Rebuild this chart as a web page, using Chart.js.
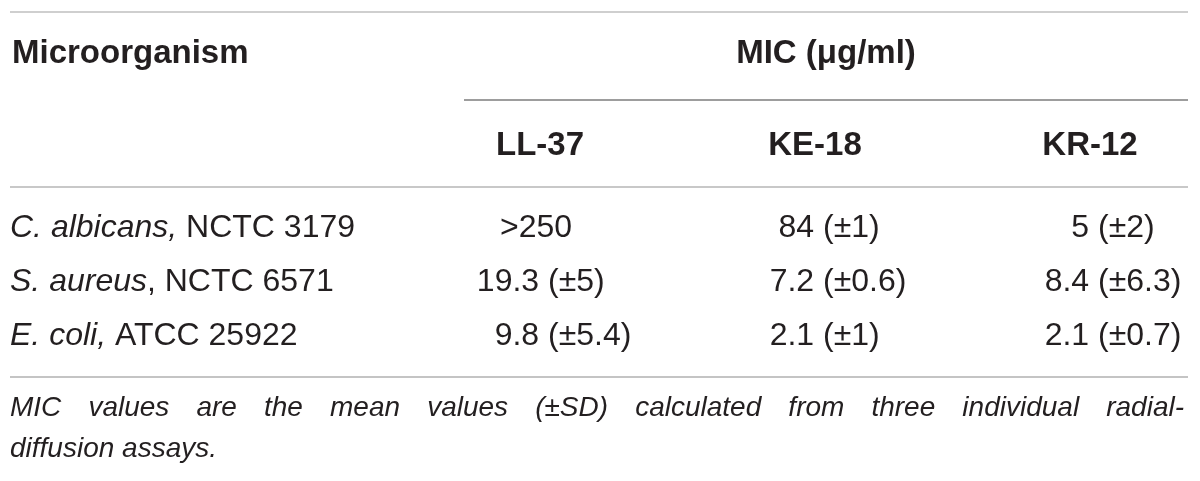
<!DOCTYPE html>
<html>
<head>
<meta charset="utf-8">
<script src="https://cdn.jsdelivr.net/npm/chart.js@4.4.1/dist/chart.umd.min.js"></script>
<style>
  html, body { margin: 0; padding: 0; background: #fff; }
  #wrap { width: 1200px; height: 481px; position: relative; }
</style>
</head>
<body>
<div id="wrap"><canvas id="micTable"></canvas></div>
<script>
// table content
const peptides = ['LL-37', 'KE-18', 'KR-12'];
const speciesNames = ['C. albicans,', 'S. aureus', 'E. coli,'];
const strainNames = [' NCTC 3179', ', NCTC 6571', ' ATCC 25922'];

// MIC in ug/ml, mean and SD per organism (rows in the order above)
const ll37Mean = ['>250', 19.3, 9.8];
const ll37Sd = [null, 5, 5.4];
const ke18Mean = [84, 7.2, 2.1];
const ke18Sd = [1, 0.6, 1];
const kr12Mean = [5, 8.4, 2.1];
const kr12Sd = [2, 6.3, 0.7];

const headerLeft = 'Microorganism';
const headerSpan = 'MIC (\u03bcg/ml)';
const footnoteLines = [
  'MIC values are the mean values (\u00b1SD) calculated from three individual radial-',
  'diffusion assays.'
];

const means = [ll37Mean, ke18Mean, kr12Mean];
const sds = [ll37Sd, ke18Sd, kr12Sd];

const FONT = '"Liberation Sans", Arial, sans-serif';
const INK = '#231f20';

const tablePlugin = {
  id: 'tableText',
  afterDraw(chart) {
    const ctx = chart.ctx;
    const xs = chart.scales.x;
    const ys = chart.scales.y;
    const left = 10, right = 1188;

    ctx.save();
    // rules
    function rule(x1, x2, y, color) {
      ctx.strokeStyle = color;
      ctx.lineWidth = 2;
      ctx.beginPath();
      ctx.moveTo(x1, y);
      ctx.lineTo(x2, y);
      ctx.stroke();
    }
    rule(left, right, 12, '#cfcfcf');
    rule(464, right, 100, '#9d9d9d');
    rule(left, right, 187, '#c8c8c8');
    rule(left, right, 377, '#c4c4c4');

    ctx.fillStyle = INK;
    ctx.textBaseline = 'middle';

    // header rows
    ctx.font = 'bold 33px ' + FONT;
    ctx.textAlign = 'left';
    ctx.fillText(headerLeft, 12, 54);
    ctx.textAlign = 'center';
    ctx.fillText(headerSpan, (464 + right) / 2, 54);
    peptides.forEach((p, j) => {
      ctx.fillText(p, xs.getPixelForValue(j) - 8, 146);
    });

    // row labels
    speciesNames.forEach((s, i) => {
      const y = ys.getPixelForValue(i);
      ctx.textAlign = 'left';
      ctx.font = 'italic 32px ' + FONT;
      ctx.fillText(s, left, y);
      const w = ctx.measureText(s).width;
      ctx.font = '32px ' + FONT;
      ctx.fillText(strainNames[i], left + w, y);
    });

    // cells, aligned on the opening bracket at the points the scales computed
    ctx.font = '32px ' + FONT;
    chart.data.datasets.forEach((ds, j) => {
      chart.getDatasetMeta(j).data.forEach((pt, i) => {
        const d = ds.data[i];
        if (d.sd === null) {
          ctx.textAlign = 'center';
          ctx.fillText(String(d.mean), pt.x - 12, pt.y);
        } else {
          ctx.textAlign = 'right';
          ctx.fillText(d.mean + ' ', pt.x, pt.y);
          ctx.textAlign = 'left';
          ctx.fillText('(\u00b1' + d.sd + ')', pt.x, pt.y);
        }
      });
    });

    // footnote, first line justified
    ctx.font = 'italic 28px ' + FONT;
    ctx.textAlign = 'left';
    const words = footnoteLines[0].split(' ');
    const widths = words.map(w => ctx.measureText(w).width);
    const gap = (1184 - left - widths.reduce((a, b) => a + b, 0)) / (words.length - 1);
    let x = left;
    words.forEach((w, k) => {
      ctx.fillText(w, x, 408);
      x += widths[k] + gap;
    });
    ctx.fillText(footnoteLines[1], left, 449);
    ctx.restore();
  }
};

new Chart(document.getElementById('micTable'), {
  type: 'scatter',
  data: {
    datasets: peptides.map((p, j) => ({
      label: p,
      data: speciesNames.map((s, i) => ({ x: p, y: s, mean: means[j][i], sd: sds[j][i] })),
      pointRadius: 0,
      pointHoverRadius: 0
    }))
  },
  options: {
    responsive: true,
    maintainAspectRatio: false,
    animation: false,
    events: [],
    layout: {
      padding: { left: 548, right: 102, top: 201, bottom: 118 }
    },
    plugins: {
      legend: { display: false },
      tooltip: { enabled: false }
    },
    scales: {
      x: { type: 'category', labels: peptides, offset: false, display: false },
      y: { type: 'category', labels: speciesNames, offset: true, display: false }
    }
  },
  plugins: [tablePlugin]
});
</script>
</body>
</html>
